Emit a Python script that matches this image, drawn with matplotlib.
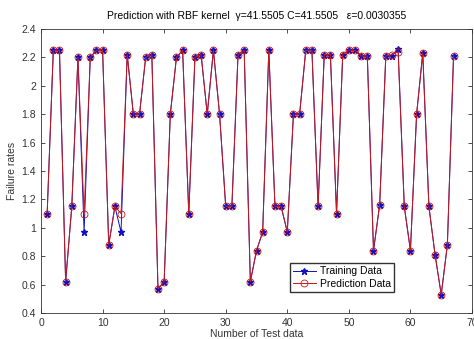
import matplotlib
matplotlib.use("Agg")
import matplotlib.pyplot as plt
import numpy as np

plt.rcParams['font.family'] = ['Liberation Sans', 'DejaVu Sans']

# test data index
test_idx = np.arange(1, 68)

# failure rates
training = [1.10, 2.25, 2.25, 0.62, 1.15, 2.20, 0.97, 2.20, 2.25, 2.255,
            0.88, 1.15, 0.97, 2.22, 1.80, 1.80, 2.20, 2.22, 0.57, 0.62,
            1.80, 2.20, 2.25, 1.10, 2.20, 2.22, 1.80, 2.25, 1.80, 1.15,
            1.15, 2.22, 2.25, 0.62, 0.84, 0.97, 2.25, 1.15, 1.15, 0.97,
            1.80, 1.80, 2.25, 2.25, 1.15, 2.22, 2.22, 1.10, 2.22, 2.25,
            2.25, 2.21, 2.21, 0.84, 1.16, 2.21, 2.21, 2.26, 1.15, 0.84,
            1.80, 2.23, 1.15, 0.81, 0.53, 0.88, 2.21]
prediction = [1.10, 2.25, 2.25, 0.62, 1.15, 2.20, 1.10, 2.20, 2.25, 2.255,
              0.88, 1.15, 1.10, 2.22, 1.80, 1.80, 2.20, 2.22, 0.57, 0.62,
              1.80, 2.20, 2.25, 1.10, 2.20, 2.22, 1.80, 2.25, 1.80, 1.15,
              1.15, 2.22, 2.25, 0.62, 0.84, 0.97, 2.25, 1.15, 1.15, 0.97,
              1.80, 1.80, 2.25, 2.25, 1.15, 2.22, 2.22, 1.10, 2.22, 2.25,
              2.25, 2.21, 2.21, 0.84, 1.16, 2.21, 2.22, 2.24, 1.15, 0.84,
              1.80, 2.23, 1.15, 0.81, 0.53, 0.88, 2.21]

fig = plt.figure(figsize=(4.74, 3.39), dpi=100)
ax = fig.add_axes([0.0865, 0.0767, 0.9093, 0.8378])

ax.plot(test_idx, training, color="#1010c0", lw=0.7, marker="*",
        ms=4.5, label="Training Data")
ax.plot(test_idx, prediction, color="#c81818", lw=0.7, marker="o",
        ms=5, mfc="none", mew=0.6, label="Prediction Data")

ax.set_xlim(0, 70)
ax.set_ylim(0.4, 2.4)
ax.set_xticks(np.arange(0, 71, 10))
ax.set_yticks(np.arange(0.4, 2.41, 0.2))
ax.set_yticklabels(["0.4", "0.6", "0.8", "1", "1.2", "1.4", "1.6",
                    "1.8", "2", "2.2", "2.4"])
ax.tick_params(direction="in", top=True, right=True, labelsize=7.5,
               length=3, width=0.6, colors="#333333", labelcolor="#333333")
for s in ax.spines.values():
    s.set_linewidth(0.6)
    s.set_color("#333333")

ax.set_xlabel("Number of Test data", fontsize=7.5, labelpad=1,
              color="#333333")
ax.set_ylabel("Failure rates", fontsize=7.5, labelpad=3, color="#333333")
ax.set_title("Prediction with RBF kernel  γ=41.5505 C=41.5505   ε=0.0030355",
             fontsize=7.5, pad=7)

ax.legend(loc="lower left", bbox_to_anchor=(0.565, 0.055), fontsize=7.5,
          fancybox=False, framealpha=1, edgecolor="#333333",
          borderpad=0.3, handlelength=2.2, labelspacing=0.25,
          handletextpad=0.4)

fig.savefig("out.png", dpi=100)
